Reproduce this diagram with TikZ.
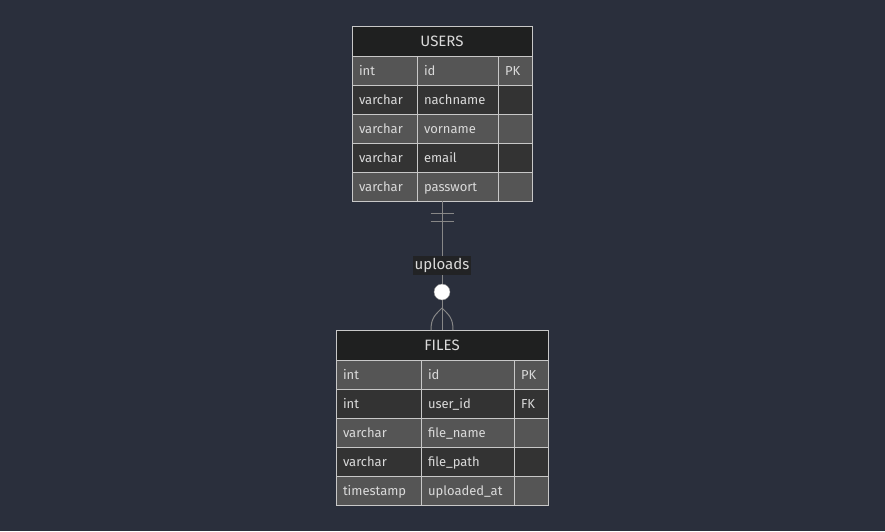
\documentclass[tikz,border=0pt]{standalone}
\usepackage{fontspec}
\setmainfont{Fira Sans}
\usetikzlibrary{positioning,calc}
\definecolor{bgslate}{RGB}{42,47,60}
\definecolor{headfill}{RGB}{31,32,32}
\definecolor{rowlight}{RGB}{85,85,85}
\definecolor{rowdark}{RGB}{51,51,51}
\definecolor{cellline}{RGB}{200,200,200}
\definecolor{celltext}{RGB}{218,218,218}
\definecolor{relline}{RGB}{135,135,135}
\definecolor{labelfill}{RGB}{34,35,37}
\tikzset{
  tablehead/.style={draw=cellline,fill=headfill,text=celltext,font=\fontsize{15}{18}\selectfont,minimum height=30pt,inner sep=0pt,outer sep=0pt,anchor=north west},
  cell/.style={draw=cellline,text=celltext,font=\fontsize{13}{15}\selectfont,minimum height=29pt,inner ysep=0pt,inner xsep=7pt,outer sep=0pt,text height=10pt,text depth=0pt,align=left,anchor=north west},
  rel/.style={draw=relline,line width=1pt},
  rellabel/.style={fill=labelfill,text=celltext,font=\fontsize{15}{18}\selectfont,inner sep=2pt}
}
\begin{document}
\begin{tikzpicture}[x=1pt,y=-1pt]
\useasboundingbox[fill=bgslate] (0,0) rectangle (885,531);
\node[tablehead,minimum width=180pt] (users-head) at (352,26) {USERS};
\foreach \i/\type/\field/\key/\shade in {1/int/id/PK/rowlight,2/varchar/nachname/{}/rowdark,3/varchar/vorname/{}/rowlight,4/varchar/email/{}/rowdark,5/varchar/passwort/{}/rowlight}{
  \node[cell,fill=\shade,text width=51pt] (users-\i-1) at (352,27+29*\i) {\type};
  \node[cell,fill=\shade,text width=67pt] (users-\i-2) at (417,27+29*\i) {\field};
  \node[cell,fill=\shade,text width=20pt] (users-\i-3) at (498,27+29*\i) {\key};
}
\node[tablehead,minimum width=212pt] (files-head) at (336,330) {FILES};
\foreach \i/\type/\field/\key/\shade in {1/int/id/PK/rowlight,2/int/user\_id/FK/rowdark,3/varchar/file\_name/{}/rowlight,4/varchar/file\_path/{}/rowdark,5/timestamp/uploaded\_at/{}/rowlight}{
  \node[cell,fill=\shade,text width=71pt] (files-\i-1) at (336,331+29*\i) {\type};
  \node[cell,fill=\shade,text width=79pt] (files-\i-2) at (421,331+29*\i) {\field};
  \node[cell,fill=\shade,text width=20pt] (files-\i-3) at (514,331+29*\i) {\key};
}
\coordinate (users-foot) at (users-head |- users-5-1.south);
\draw[rel] (users-foot) -- (files-head.north) node[rellabel,midway] (uploads-label) {uploads};
\draw[rel] ($(users-foot)+(-11.5,12)$) -- ++(23,0);
\draw[rel] ($(users-foot)+(-11.5,20)$) -- ++(23,0);
\draw[rel] ($(files-head.north)+(-11,0)$) .. controls +(0,-12) and +(-7,7) .. ($(files-head.north)+(0,-22)$);
\draw[rel] ($(files-head.north)+(11,0)$) .. controls +(0,-12) and +(7,7) .. ($(files-head.north)+(0,-22)$);
\node[circle,draw=relline,fill=white,minimum size=16pt,inner sep=0pt] (zero-mark) at ($(files-head.north)+(0,-38)$) {};
\end{tikzpicture}
\end{document}
